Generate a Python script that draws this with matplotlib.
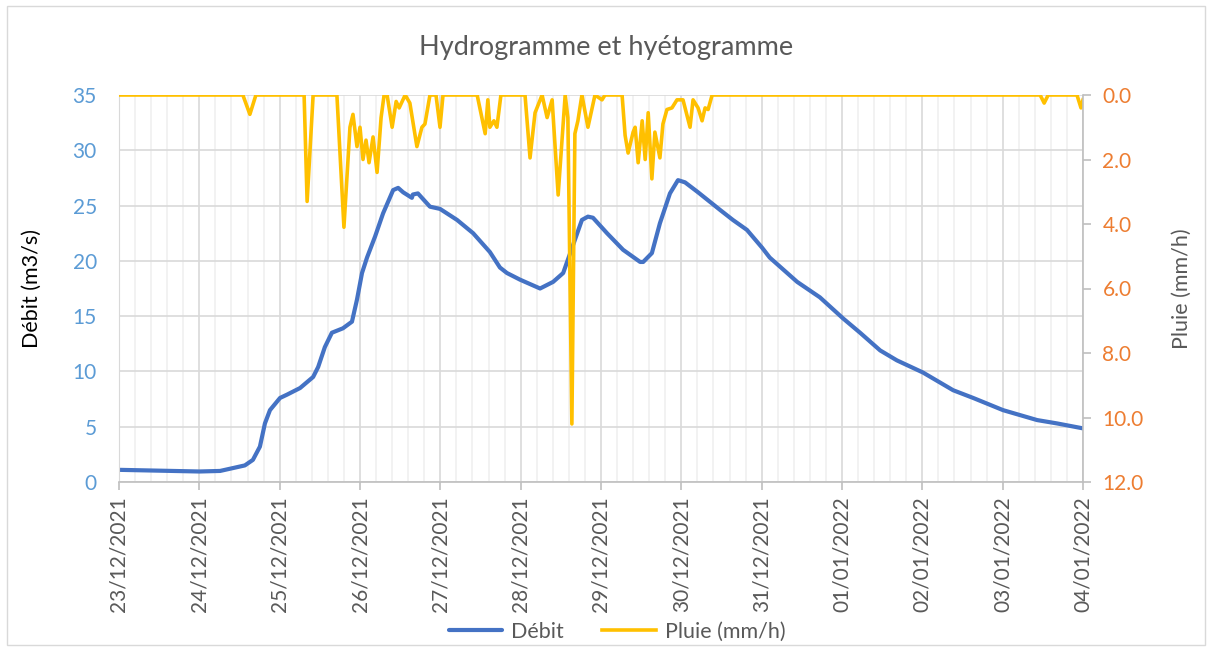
import numpy as np
import pandas as pd
import matplotlib
matplotlib.use("Agg")
import matplotlib.pyplot as plt
import matplotlib.dates as mdates
from matplotlib.patches import Rectangle

plt.rcParams['font.family'] = ['Lato', 'DejaVu Sans']

start = pd.Timestamp('2021-12-23 00:00')
end = pd.Timestamp('2022-01-04 00:00')

# discharge (m3/s), hours since 23/12/2021 00:00
debit_h = [0, 24, 30.2, 37.6, 40.0, 42.1, 43.6, 45.1, 48.1, 50.2, 54.1, 58.0, 59.5,
           61.5, 63.6, 66.9, 69.6, 71.1, 72.6, 74.1, 76.5, 78.9, 81.9, 83.4, 84.9,
           87.5, 87.8, 89.3, 92.9, 95.9, 101.0, 105.8, 110.8, 113.8, 115.9, 119.8,
           125.8, 129.7, 132.7, 134.1, 136.2, 138.3, 140.1, 141.6, 145.8, 150.6,
           155.7, 156.6, 159.2, 161.6, 164.6, 167.0, 169.1, 173.0, 179.6, 183.4,
           187.6, 192.1, 194.4, 202.6, 209.4, 216.3, 221.4, 227.4, 232.4, 240.2,
           249.2, 255.2, 264.1, 274.3, 280.2, 288]
debit = [1.1, 0.95, 1.0, 1.5, 2.0, 3.2, 5.3, 6.5, 7.6, 7.9, 8.5, 9.5, 10.4,
         12.2, 13.5, 13.9, 14.5, 16.5, 18.9, 20.3, 22.2, 24.3, 26.4, 26.6, 26.2,
         25.7, 26.0, 26.1, 24.9, 24.7, 23.7, 22.5, 20.8, 19.4, 18.9, 18.3,
         17.5, 18.1, 18.9, 20.1, 21.9, 23.7, 24.0, 23.9, 22.5, 21.0,
         19.9, 19.9, 20.7, 23.4, 26.1, 27.3, 27.1, 26.2, 24.6, 23.7,
         22.8, 21.2, 20.3, 18.1, 16.7, 14.8, 13.5, 11.9, 11.0, 9.9,
         8.3, 7.6, 6.5, 5.6, 5.3, 4.85]

# rainfall intensity (mm/h)
pluie_h = [0, 37.0, 39.1, 40.9, 55.3, 56.2, 58.0, 65.1, 67.2, 69.0, 69.9, 71.1,
           72.0, 72.9, 73.8, 74.7, 75.9, 77.1, 78.3, 79.2, 80.1, 81.6, 82.8, 83.7,
           85.5, 86.9, 89.0, 90.5, 91.4, 92.9, 94.7, 95.9, 96.8, 107.0, 109.4,
           110.2, 110.8, 112.0, 112.9, 114.1, 121.3, 122.8, 124.3, 126.4, 127.9,
           129.4, 131.2, 133.3, 134.1, 135.3, 136.2, 137.1, 138.3, 140.1, 142.2,
           144.3, 145.2, 150.3, 151.2, 152.1, 153.6, 154.2, 155.1, 156.3, 157.2,
           158.1, 159.2, 160.1, 161.6, 162.5, 163.7, 165.2, 166.7, 168.5, 170.6,
           171.5, 173.0, 174.2, 175.1, 176.0, 177.2, 275.2, 276.4, 277.6, 286.2,
           287.4, 288]
pluie = [0, 0, 0.6, 0, 0, 3.3, 0, 0, 4.1, 1.0, 0.6, 1.6,
         1.0, 2.0, 1.4, 2.1, 1.3, 2.4, 0.7, 0, 0, 1.0, 0.2, 0.4,
         0, 0.25, 1.6, 1.0, 0.9, 0, 0, 1.0, 0, 0, 1.2,
         0.15, 1.0, 0.8, 1.0, 0, 0, 1.95, 0.55, 0, 0.7,
         0.15, 3.1, 0, 0.7, 10.2, 1.2, 0.8, 0, 1.0, 0,
         0.15, 0, 0, 1.25, 1.8, 1.15, 1.0, 2.1, 0.8, 2.0,
         0.55, 2.6, 1.15, 1.95, 0.9, 0.45, 0.4, 0.15, 0.15, 1.0,
         0.15, 0.4, 0.8, 0.4, 0.45, 0, 0, 0.25, 0, 0,
         0.4, 0.15]

t_debit = start + pd.to_timedelta(debit_h, unit='h')
t_pluie = start + pd.to_timedelta(pluie_h, unit='h')

grey_txt = '#595959'
fig = plt.figure(figsize=(12.12, 6.51), dpi=100)
fig.patches.append(Rectangle((7 / 1212, 6 / 651), 1198 / 1212, 639 / 651,
                             transform=fig.transFigure, fill=False,
                             edgecolor='#D9D9D9', lw=1.0))
ax = fig.add_axes([119 / 1212, 1 - 482 / 651, 964 / 1212, 387 / 651])

ax.plot(t_debit, debit, color='#4472C4', lw=3.0, label='Débit',
        solid_joinstyle='round', solid_capstyle='round')
ax.set_xlim(start, end)
ax.set_ylim(0, 35)
ax.set_yticks(np.arange(0, 36, 5))
ax.set_ylabel('Débit (m3/s)', fontsize=15.5, color='black', labelpad=22)

ax.xaxis.set_major_locator(mdates.DayLocator())
ax.xaxis.set_major_formatter(mdates.DateFormatter('%d/%m/%Y'))
ax.set_xticks(pd.date_range(start, end, freq='4.8h'), minor=True)
ax.grid(True, which='major', color='#D9D9D9', lw=1.2)
ax.grid(True, which='minor', axis='x', color='#F0F0F0', lw=1.2)
ax.set_axisbelow(True)

ax.tick_params(axis='x', which='major', rotation=90, labelsize=15, colors='#BFBFBF',
               labelcolor=grey_txt, length=6, width=1.2, pad=4)
ax.tick_params(axis='x', which='minor', length=0)
ax.tick_params(axis='y', labelsize=15, labelcolor='#5B9BD5', length=0, pad=16)
for side in ['top', 'right']:
    ax.spines[side].set_visible(False)
ax.spines['left'].set_color('#D9D9D9')
ax.spines['bottom'].set_color('#BFBFBF')
ax.spines['bottom'].set_linewidth(1.2)

ax2 = ax.twinx()
ax2.plot(t_pluie, pluie, color='#FFC000', lw=2.6, label='Pluie (mm/h)',
         solid_joinstyle='round')
ax2.set_ylim(12, 0)
ax2.set_yticks(np.arange(0, 13, 2))
ax2.yaxis.set_major_formatter(matplotlib.ticker.FormatStrFormatter('%.1f'))
ax2.tick_params(axis='y', labelsize=15, labelcolor='#ED7D31', colors='#BFBFBF',
                length=6, width=1.2, pad=8)
ax2.set_ylabel('Pluie (mm/h)', fontsize=15.5, color=grey_txt, labelpad=20)
for side in ['top', 'left', 'bottom']:
    ax2.spines[side].set_visible(False)
ax2.spines['right'].set_color('#BFBFBF')
ax2.spines['right'].set_linewidth(1.2)

fig.suptitle('Hydrogramme et hyétogramme', fontsize=19.5, color=grey_txt, y=1 - 47 / 651,
             va='center')

h1, l1 = ax.get_legend_handles_labels()
h2, l2 = ax2.get_legend_handles_labels()
fig.legend(h1 + h2, l1 + l2, loc='center', bbox_to_anchor=(617 / 1212, 1 - 632 / 651),
           ncol=2, frameon=False, fontsize=15.5, labelcolor=grey_txt,
           handlelength=2.5, columnspacing=1.8, handletextpad=0.4)

fig.savefig('out.png', dpi=100)
